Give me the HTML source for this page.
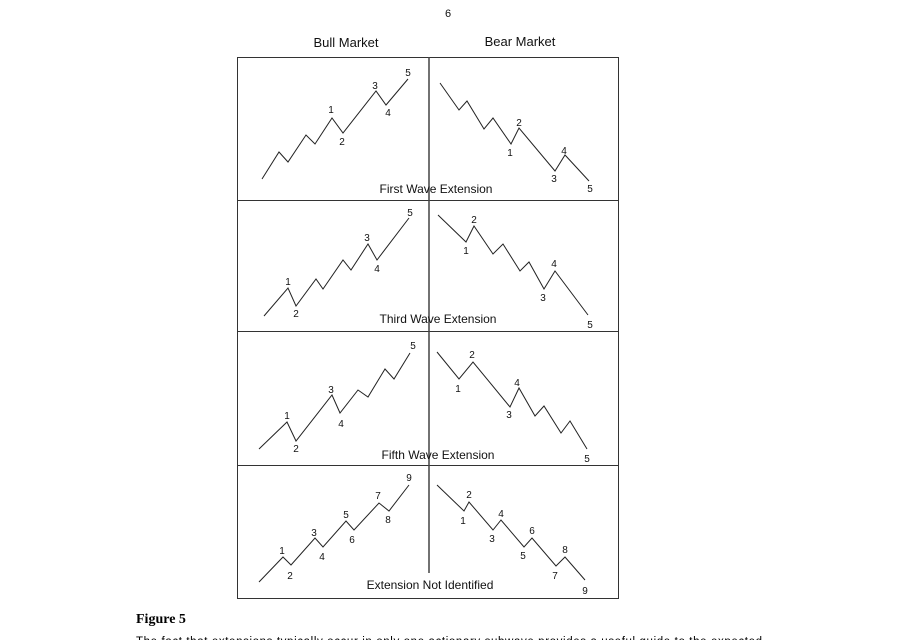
<!DOCTYPE html>
<html><head><meta charset="utf-8"><style>
html,body{margin:0;padding:0;background:#fff;width:898px;height:640px;overflow:hidden}
svg{display:block}
.s{font-family:"Liberation Sans",Arial,sans-serif;fill:#111}
.n{font-size:10px;text-anchor:middle}
.c{font-size:12px;text-anchor:middle}
.w{fill:none;stroke:#222;stroke-width:1}
</style></head><body>
<svg width="898" height="640" viewBox="0 0 898 640">
<text class="s" x="448" y="17" font-size="11" text-anchor="middle">6</text>
<text class="s" x="346" y="47" font-size="13" text-anchor="middle">Bull Market</text>
<text class="s" x="520" y="46" font-size="13" text-anchor="middle">Bear Market</text>
<g stroke="#333" fill="none" stroke-width="1">
<rect x="237.5" y="57.5" width="381" height="541"/>
<line x1="237" y1="200.5" x2="619" y2="200.5"/>
<line x1="237" y1="331.5" x2="619" y2="331.5"/>
<line x1="237" y1="465.5" x2="619" y2="465.5"/>
</g>
<line x1="429" y1="57" x2="429" y2="573" stroke="#444" stroke-width="1.5"/>
<!-- Panel 1 -->
<polyline class="w" points="262,179 279,152 288,162 306,135 315,144 332,118 343,133 376,91 386,105 408,79"/>
<polyline class="w" points="440,83 459,110 467,101 484,129 493,118 511,144 519,128 555,171 565,155 589,181"/>
<g class="s n">
<text x="331" y="113">1</text><text x="342" y="145">2</text><text x="375" y="89">3</text><text x="388" y="116">4</text><text x="408" y="76">5</text>
<text x="510" y="156">1</text><text x="519" y="126">2</text><text x="554" y="182">3</text><text x="564" y="154">4</text><text x="590" y="192">5</text>
</g>
<text class="s c" x="436" y="193" style="background:#fff">First Wave Extension</text>
<!-- Panel 2 -->
<polyline class="w" points="264,316 288,288 296,306 316,279 323,289 343,260 351,270 368,244 377,260 409,218"/>
<polyline class="w" points="438,215 466,242 474,226 493,254 503,244 520,271 529,262 544,289 555,271 588,315"/>
<g class="s n">
<text x="288" y="285">1</text><text x="296" y="317">2</text><text x="367" y="241">3</text><text x="377" y="272">4</text><text x="410" y="216">5</text>
<text x="466" y="254">1</text><text x="474" y="223">2</text><text x="543" y="301">3</text><text x="554" y="267">4</text><text x="590" y="328">5</text>
</g>
<text class="s c" x="438" y="323">Third Wave Extension</text>
<!-- Panel 3 -->
<polyline class="w" points="259,449 287,422 296,441 332,395 340,413 358,390 368,397 385,369 394,379 410,353"/>
<polyline class="w" points="437,352 459,379 473,362 510,407 519,388 535,416 544,406 561,433 570,421 587,449"/>
<g class="s n">
<text x="287" y="419">1</text><text x="296" y="452">2</text><text x="331" y="393">3</text><text x="341" y="427">4</text><text x="413" y="349">5</text>
<text x="458" y="392">1</text><text x="472" y="358">2</text><text x="509" y="418">3</text><text x="517" y="386">4</text><text x="587" y="462">5</text>
</g>
<text class="s c" x="438" y="459">Fifth Wave Extension</text>
<!-- Panel 4 -->
<polyline class="w" points="259,582 283,557 291,565 315,538 323,547 346,521 354,530 379,503 389,511 409,485"/>
<polyline class="w" points="437,485 464,511 469,502 493,530 501,520 524,547 532,538 556,566 565,557 585,580"/>
<g class="s n">
<text x="282" y="554">1</text><text x="290" y="579">2</text><text x="314" y="536">3</text><text x="322" y="560">4</text><text x="346" y="518">5</text><text x="352" y="543">6</text><text x="378" y="499">7</text><text x="388" y="523">8</text><text x="409" y="481">9</text>
<text x="463" y="524">1</text><text x="469" y="498">2</text><text x="492" y="542">3</text><text x="501" y="517">4</text><text x="523" y="559">5</text><text x="532" y="534">6</text><text x="555" y="579">7</text><text x="565" y="553">8</text><text x="585" y="594">9</text>
</g>
<text class="s c" x="430" y="589">Extension Not Identified</text>
<text x="136" y="623" font-family="'Liberation Serif',serif" font-weight="bold" font-size="14" fill="#000">Figure 5</text>
<text x="136" y="645" font-family="'Liberation Sans',sans-serif" font-size="11.5" fill="#000" textLength="626">The fact that extensions typically occur in only one actionary subwave provides a useful guide to the expected</text>
</svg>
</body></html>
